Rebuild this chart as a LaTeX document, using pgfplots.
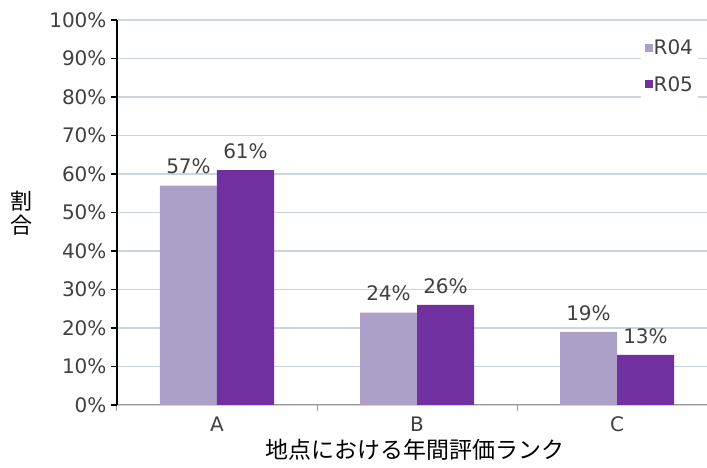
\documentclass[border=0pt]{standalone}
\usepackage{pgfplots}
\pgfplotsset{compat=1.18}
\usepackage{fontspec}
\setmainfont{DejaVu Sans}
\newfontfamily\jp{Noto Sans CJK JP}
\definecolor{rlight}{HTML}{ADA0C8}
\definecolor{rdark}{HTML}{7030A0}
\definecolor{gridc}{HTML}{C8D6DE}
\definecolor{txt}{HTML}{404040}
\begin{document}
\begin{tikzpicture}
\begin{axis}[
  scale only axis,
  width=590pt, height=385pt,
  xmin=-0.5, xmax=2.45,
  ymin=0, ymax=100,
  ybar=0pt, bar width=57pt,
  axis x line*=bottom, axis y line*=left,
  x axis line style={draw=gray!80, line width=1pt, -},
  y axis line style={draw=black, line width=1.3pt, -},
  xtick={0,1,2}, xticklabels={A,B,C},
  minor xtick={-0.5,0.5,1.5},
  major x tick style={draw=none},
  minor x tick style={draw=gray!80, line width=1pt},
  minor tick length=6pt,
  ytick={0,10,...,100},
  yticklabels={0\%,10\%,20\%,30\%,40\%,50\%,60\%,70\%,80\%,90\%,100\%},
  major y tick style={draw=black, line width=1.2pt},
  major tick length=6pt,
  tick align=outside,
  ymajorgrids,
  grid style={draw=gridc, line width=1.2pt},
  tick label style={font=\fontsize{20}{23}\selectfont, text=txt},
  yticklabel style={xshift=-1pt},
  xticklabel style={yshift=-2pt},
  /pgf/number format/assume math mode=true,
  nodes near coords={\pgfmathprintnumber{\pgfplotspointmeta}\%},
  nodes near coords style={font=\fontsize{20}{23}\selectfont, text=txt, yshift=8pt},
  legend style={at={(rel axis cs:0.985,0.962)}, anchor=north east, draw=none, fill=white,
    font=\fontsize{20}{23}\selectfont, text=txt, row sep=18pt, inner sep=4pt,
    nodes={inner sep=1pt}},
  legend cell align=left,
  legend image code/.code={\fill[#1] (0pt,-4pt) rectangle (8pt,4pt);},
  clip=false,
]
\addplot[fill=rlight, draw=none] coordinates {(0,57) (1,24) (2,19)};
\addplot[fill=rdark, draw=none] coordinates {(0,61) (1,26) (2,13)};
\legend{R04,R05}
\end{axis}
\node[font=\jp\fontsize{22}{24}\selectfont, text=black, align=center, inner sep=0pt] at (-95pt,192pt) {割\\合};
\node[font=\jp\fontsize{23}{26}\selectfont, text=black, anchor=center] at (298pt,-45pt) {地点における年間評価ランク};
\pgfresetboundingbox
\path[use as bounding box] (-117pt,-63pt) rectangle (590pt,405pt);
\end{tikzpicture}
\end{document}
